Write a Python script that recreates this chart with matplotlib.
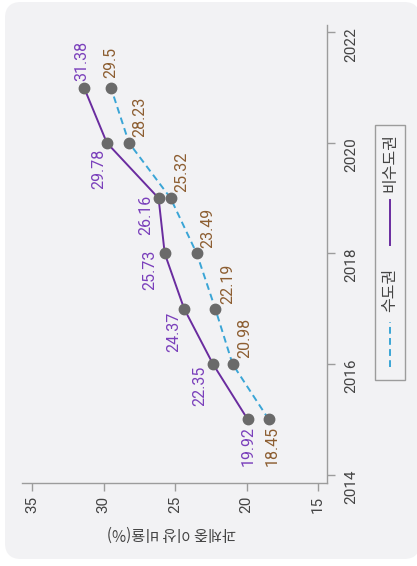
import matplotlib
matplotlib.use("Agg")
import matplotlib.pyplot as plt
from matplotlib.patches import FancyBboxPatch, Rectangle
from matplotlib.lines import Line2D
from matplotlib.transforms import IdentityTransform

# ---- data -------------------------------------------------------------
years = [2015, 2016, 2017, 2018, 2019, 2020, 2021]
capital = [18.45, 20.98, 22.19, 23.49, 25.32, 28.23, 29.5]          # 수도권
non_capital = [19.92, 22.35, 24.37, 25.73, 26.16, 29.78, 31.38]     # 비수도권
capital_name = "수도권"
non_capital_name = "비수도권"
value_label = "과체중 이상 비율(%)"
value_ticks = [15, 20, 25, 30, 35]
year_ticks = [2014, 2016, 2018, 2020, 2022]

# value-label placement, pixels (right, down) from each point
capital_offsets = [(3, 27), (12, -26), (12, -25), (11, -26), (11, -26), (11, -26), (0, -25)]
non_capital_offsets = [(0, 27), (-13, 22), (-10, 23), (-15, 16), (-13, 17), (-8, 26), (-2, -27)]

# ---- style ------------------------------------------------------------
W, H, DPI = 417, 566, 100
PANEL = "#f2f2f4"
PURPLE_LINE = "#6a2c9f"
PURPLE_TEXT = "#7a3fbb"
BLUE = "#3aa5d6"
BROWN = "#8c5d30"
MARKER = "#6a6a6a"
AXIS = "#9c9c9c"
TEXT = "#444444"
NUM_FONT = ["Roboto", "DejaVu Sans"]
KR_FONT = ["Noto Sans CJK KR", "DejaVu Sans"]
LABEL_SIZE = 11.5
TICK_SIZE = 11

plt.rcParams["font.family"] = NUM_FONT

fig = plt.figure(figsize=(W / DPI, H / DPI), dpi=DPI, facecolor="white")

# rounded background card (kept underneath the axes)
fig.patches.append(FancyBboxPatch((5, 7), 415, 557,
                                  boxstyle="round,pad=0,rounding_size=16",
                                  transform=IdentityTransform(),
                                  facecolor=PANEL, edgecolor="none", zorder=-10))

# chart is laid out turned on its side: values run along the bottom
# (high to low), years run up the right-hand side
ax = fig.add_axes([22.3 / W, 1 - 483 / H, (327 - 22.3) / W, (483 - 24.5) / H])
ax.set_facecolor("none")

ax.plot(non_capital, years, color=PURPLE_LINE, lw=1.4, zorder=2)
ax.plot(capital, years, color=BLUE, lw=1.4, ls=(0, (3.5, 2.2)), zorder=2)
ax.plot(non_capital, years, ls="none", marker="o", ms=7.5, mfc=MARKER, mec=MARKER, zorder=3)
ax.plot(capital, years, ls="none", marker="o", ms=7.5, mfc=MARKER, mec=MARKER, zorder=3)

for v, yr, (dx, dy) in zip(non_capital, years, non_capital_offsets):
    ax.annotate(f"{v:g}", xy=(v, yr), xytext=(dx, -dy), textcoords="offset pixels",
                rotation=90, ha="center", va="center", fontsize=LABEL_SIZE, color=PURPLE_TEXT)
for v, yr, (dx, dy) in zip(capital, years, capital_offsets):
    ax.annotate(f"{v:g}", xy=(v, yr), xytext=(dx, -dy), textcoords="offset pixels",
                rotation=90, ha="center", va="center", fontsize=LABEL_SIZE, color=BROWN)

ax.set_xlim(35.70, 14.37)
ax.set_ylim(2013.85, 2022.14)
ax.set_xticks(value_ticks)
ax.set_yticks(year_ticks)
ax.yaxis.tick_right()

for side in ("top", "left"):
    ax.spines[side].set_visible(False)
for side in ("bottom", "right"):
    ax.spines[side].set_color(AXIS)
    ax.spines[side].set_linewidth(1)

ax.tick_params(axis="x", length=6, width=1, color=AXIS, pad=3, labelsize=TICK_SIZE,
               labelcolor=TEXT, labelrotation=90)
ax.tick_params(axis="y", length=5.5, width=1, color=AXIS, pad=7, labelsize=TICK_SIZE,
               labelcolor=TEXT, labelrotation=90)

ax.set_xlabel(value_label, rotation=180, fontsize=11, color=TEXT, family=KR_FONT)
ax.xaxis.set_label_coords(0.49, -0.109)
ax.xaxis.label.set_va("center")

# legend box, stacked along the right edge
fig.patches.append(Rectangle((375, H - 380), 30, 255, transform=IdentityTransform(),
                             fill=False, edgecolor=AXIS, lw=1, zorder=5))
fig.add_artist(Line2D([390, 390], [H - 245, H - 200], transform=IdentityTransform(),
                      color=PURPLE_LINE, lw=1.4))
fig.add_artist(Line2D([390, 390], [H - 367, H - 322], transform=IdentityTransform(),
                      color=BLUE, lw=1.4, ls=(0, (3.5, 2.2))))
fig.text(390, H - 163, non_capital_name, transform=IdentityTransform(), rotation=90,
         ha="center", va="center", fontsize=11.5, color=TEXT, family=KR_FONT)
fig.text(390, H - 290, capital_name, transform=IdentityTransform(), rotation=90,
         ha="center", va="center", fontsize=11.5, color=TEXT, family=KR_FONT)

fig.savefig("out.png", dpi=DPI, facecolor="white")
